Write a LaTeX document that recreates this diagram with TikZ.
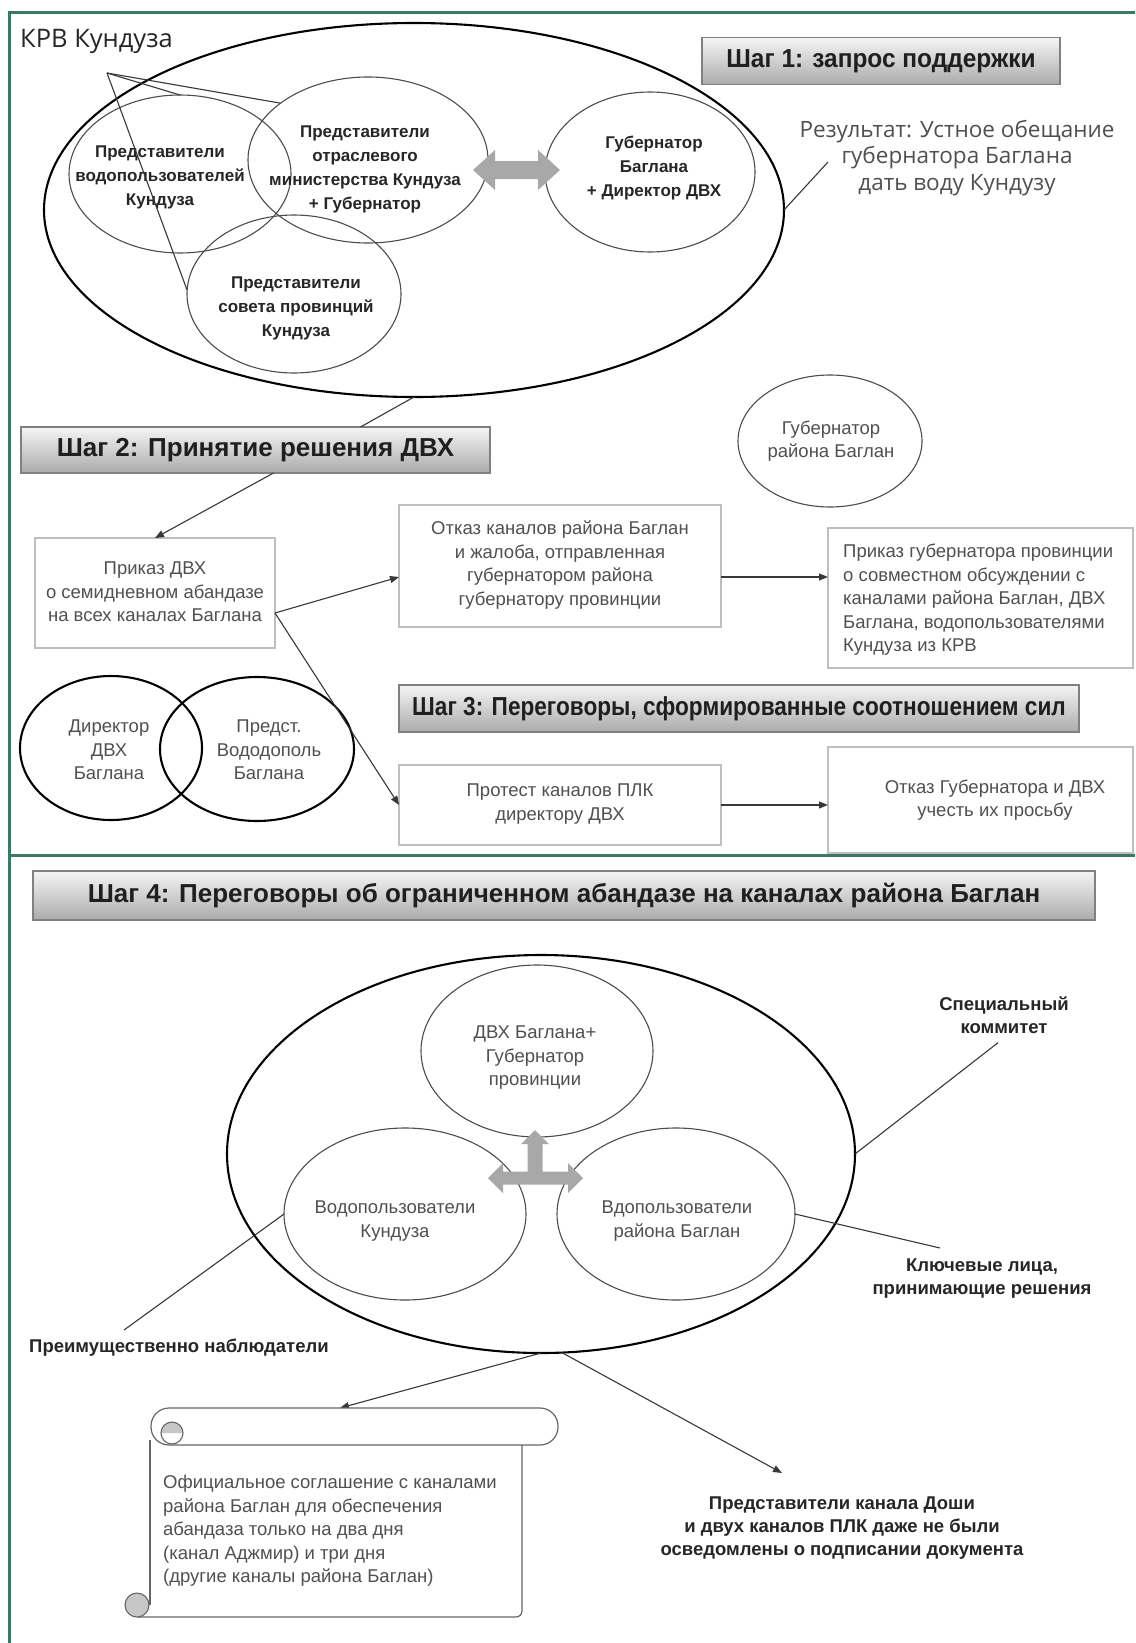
\documentclass[tikz,border=0pt]{standalone}
\usepackage{fontspec}
\setmainfont{Liberation Sans}
\newfontfamily\osans{Open Sans}
\usetikzlibrary{shapes.geometric,arrows.meta,calc}
\definecolor{frameg}{RGB}{58,122,100}
\definecolor{blockg}{RGB}{168,168,168}
\definecolor{txtg}{RGB}{80,80,80}
\definecolor{txtd}{RGB}{38,38,38}
\newcommand\fReg{\fontsize{18.5}{23.5}\selectfont}
\newcommand\fBld{\bfseries\fontsize{18.5}{23}\selectfont}
\newcommand\fSb{\bfseries\fontsize{17}{24}\selectfont}
\newcommand\fHd{\bfseries\fontsize{26}{30}\selectfont}
\begin{document}
\begin{tikzpicture}[x=1pt,y=-1pt,
  ell/.style={ellipse, draw=black!70, line width=1.1pt, inner sep=0pt, outer sep=0pt},
  bell/.style={ellipse, draw=black, line width=2.1pt, inner sep=0pt, outer sep=0pt},
  tbox/.style={rectangle, draw=black!25, line width=1.3pt, inner sep=0pt, outer sep=0pt},
  hdbox/.style={rectangle, draw=black!50, line width=1.2pt, top color=black!4, bottom color=black!33, font=\fHd, text=black!88, inner sep=0pt, outer sep=0pt},
  reg/.style={font=\fReg, text=txtg, align=center, inner sep=0pt},
  regl/.style={font=\fReg, text=txtg, align=left, inner sep=0pt},
  sbold/.style={font=\fSb, text=txtd, align=center, inner sep=0pt},
  lbold/.style={font=\fBld, text=txtd, align=center, inner sep=0pt},
  conn/.style={draw=black!78, line width=1.1pt},
  arr/.style={conn, -{Triangle[length=9pt,width=7pt]}},
  blk/.style={fill=blockg, draw=none},
  scr/.style={draw=black!60, line width=1.2pt},
]
\useasboundingbox (0,0) rectangle (1135,1643);
\fill[white] (0,0) rectangle (1135,1643);

% frame
\draw[frameg, line width=3pt] (9,1643) -- (9,13) -- (1135,13);
\draw[frameg, line width=3pt] (9,855) -- (1135,855);

% ===== Step 1 =====
\node[bell, minimum width=740pt, minimum height=374pt] (big1) at (414,210) {};
\node[ell, minimum width=222pt, minimum height=158pt] (e1) at (180,174) {};
\node[ell, minimum width=240pt, minimum height=166pt] (e2) at (368,160) {};
\node[ell, minimum width=214pt, minimum height=158pt] (e3) at (294,294) {};
\node[ell, minimum width=210pt, minimum height=160pt] (e4) at (650,172) {};

\node[sbold] (t1) at (160,177) {Представители\\водопользователей\\Кундуза};
\node[sbold] (t2) at (365,169) {Представители\\отраслевого\\министерства Кундуза\\+ Губернатор};
\node[sbold] (t3) at (296,308) {Представители\\совета провинций\\Кундуза};
\node[sbold] (t4) at (654,168) {Губернатор\\Баглана\\+ Директор ДВХ};

\node[anchor=west, font=\osans\fontsize{25.5}{28}\selectfont, text=txtd, inner sep=0pt] (krv) at (20,41) {КРВ Кундуза};
\coordinate (apex) at (107,73);
\draw[conn] (apex) -- (e1.north);
\draw[conn] (apex) -- (e2.147);
\draw[conn] (apex) -- (e3.178);

% block double arrow
\fill[blk] (473,170) -- (495,150) -- (495,161) -- (538,161) -- (538,150) -- (560,170)
  -- (538,190) -- (538,179) -- (495,179) -- (495,190) -- cycle;

\node[hdbox, minimum width=358pt, minimum height=47pt] (s1) at (881,61) {\scalebox{0.94}[1]{Шаг 1: запрос поддержки}};

\node[font=\osans\fontsize{22.5}{26.5}\selectfont, text=txtg, align=center, inner sep=0pt] (res) at (957,158)
  {Результат: Устное обещание\\губернатора Баглана\\дать воду Кундузу};
\coordinate (resl) at (828,162);
\draw[conn] (resl) -- (big1.east);

% ===== Step 2 / 3 =====
\node[hdbox, minimum width=469pt, minimum height=46pt] (s2) at (255.5,450) {Шаг 2: Принятие решения ДВХ};
\draw[conn] (big1.south) -- ([xshift=105pt]s2.north);

\node[ell, minimum width=184pt, minimum height=132pt] (gubr) at (830,441) {};
\node[reg] at (831,441) {Губернатор\\района Баглан};

\node[tbox, minimum width=240pt, minimum height=110pt] (prikaz) at (155,593) {};
\node[reg] at (155,592) {Приказ ДВХ\\о семидневном абандазе\\на всех каналах Баглана};

\node[tbox, minimum width=322pt, minimum height=122pt] (otkaz) at (560,566) {};
\node[reg] at (560,565) {Отказ каналов района Баглан\\и жалоба, отправленная\\губернатором района\\губернатору провинции};

\node[tbox, minimum width=305pt, minimum height=140pt] (prikazg) at (980.5,598) {};
\node[regl, anchor=west] at (843,600) {Приказ губернатора провинции\\о совместном обсуждении с\\каналами района Баглан, ДВХ\\Баглана, водопользователями\\Кундуза из КРВ};

\node[hdbox, minimum width=680pt, minimum height=47pt] (s3) at (739,708.5) {\scalebox{0.87}[1]{Шаг 3: Переговоры, сформированные соотношением сил}};

\node[bell, minimum width=182pt, minimum height=144pt] (dir) at (111,748) {};
\node[bell, minimum width=194pt, minimum height=144pt] (pred) at (257,749) {};
\node[reg] at (109,750) {Директор\\ДВХ\\Баглана};
\node[reg] at (269,750) {Предст.\\Вододополь\\Баглана};

\node[tbox, minimum width=322pt, minimum height=80pt] (protest) at (560,805) {};
\node[reg] at (560,804) {Протест каналов ПЛК\\директору ДВХ};

\node[tbox, minimum width=305pt, minimum height=106pt] (otkazg) at (980.5,800) {};
\node[reg] at (995,800) {Отказ Губернатора и ДВХ\\учесть их просьбу};

\draw[arr] ([xshift=18pt]s2.south) -- (prikaz.north);
\coordinate (pk) at ([yshift=-20pt]prikaz.east);
\draw[arr] (pk) -- ([yshift=-11pt]otkaz.west);
\draw[arr] (pk) -- (protest.west);
\coordinate (ok) at ([yshift=-11pt]otkaz.east);
\draw[arr] (ok) -- (ok -| prikazg.west);
\draw[arr] (protest.east) -- (protest.east -| otkazg.west);

% ===== Step 4 =====
\node[hdbox, minimum width=1062pt, minimum height=49pt] (s4) at (564,895.5) {Шаг 4: Переговоры об ограниченном абандазе на каналах района Баглан};

\node[bell, minimum width=628pt, minimum height=398pt] (big4) at (541,1154) {};
\node[ell, minimum width=232pt, minimum height=172pt] (dvx) at (537,1051) {};
\node[ell, minimum width=242pt, minimum height=172pt] (e4l) at (405,1214) {};
\node[ell, minimum width=238pt, minimum height=172pt] (e4r) at (676,1214) {};
\node[reg] at (535,1058) {ДВХ Баглана+\\Губернатор\\провинции};
\node[reg] at (395,1221) {Водопользователи\\Кундуза};
\node[reg] at (677,1221) {Вдопользователи\\района Баглан};

% three-way block arrow
\fill[blk] (488,1178) -- (503,1163) -- (503,1171.5) -- (527.5,1171.5) -- (527.5,1144) -- (521,1144)
  -- (535,1130) -- (549,1144) -- (542.5,1144) -- (542.5,1171.5) -- (568,1171.5) -- (568,1163)
  -- (583,1178) -- (568,1193) -- (568,1184.5) -- (503,1184.5) -- (503,1193) -- cycle;

\node[lbold] (spec) at (1004,1015) {Специальный\\коммитет};
\node[lbold] (key) at (982,1279) {Ключевые лица,\\принимающие решения};
\node[lbold, anchor=west] (obs) at (29,1348) {Преимущественно наблюдатели};
\node[lbold] (dosh) at (842,1528) {Представители канала Доши\\и двух каналов ПЛК даже не были\\осведомлены о подписании документа};

\coordinate (keyc) at (940,1248);
\coordinate (obsc) at (124,1330);
\coordinate (scrolltop) at (340,1408);
\coordinate (doshc) at (782,1473);
\draw[conn] (big4.east) -- ([xshift=-6pt,yshift=-9pt]spec.south);
\draw[conn] (e4r.east) -- (keyc);
\draw[conn] (e4l.west) -- (obsc);
\draw[arr] (big4.south) -- (scrolltop);
\draw[arr] (big4.-84) -- (doshc);

% scroll
\draw[scr, fill=white, rounded corners=18pt] (151,1408) rectangle (558,1445);
\draw[scr] (150,1440) -- (150,1605);
\draw[scr, rounded corners=6pt] (137,1617) -- (522,1617) -- (522,1445);
\fill[black!22] (161,1433) arc[start angle=180, end angle=360, radius=11] -- cycle;
\draw[scr, line width=1.1pt] (172,1433) circle (11);
\filldraw[draw=black!60, line width=1.1pt, fill=black!22] (137,1605) circle (12);
\node[regl, anchor=west] (scrtxt) at (163,1531) {Официальное соглашение с каналами\\района Баглан для обеспечения\\абандаза только на два дня\\(канал Аджмир) и три дня\\(другие каналы района Баглан)};
\end{tikzpicture}
\end{document}
